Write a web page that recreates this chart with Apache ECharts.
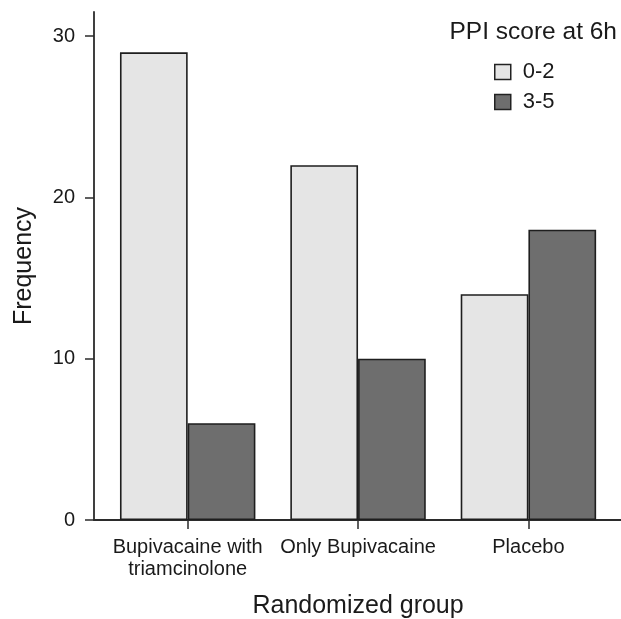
<!DOCTYPE html>
<html>
<head>
<meta charset="utf-8">
<script src="https://cdn.jsdelivr.net/npm/echarts@6/dist/echarts.min.js"></script>
<style>
html,body{margin:0;padding:0;background:#fff;}
#chart{width:621px;height:619px;}
</style>
</head>
<body>
<div id="chart"></div>
<script>
var categories = ['Bupivacaine with\ntriamcinolone', 'Only Bupivacaine', 'Placebo'];
var seriesNames = ['0-2', '3-5'];
var low = [29, 22, 14];
var high = [6, 10, 18];
var yTicks = [0, 10, 20, 30];

var FONT = '"Liberation Sans", Arial, Helvetica, sans-serif';
var TXT = '#1a1a1a';
var AX = '#2b2b2b';

var chart = echarts.init(document.getElementById('chart'), null, {renderer: 'canvas'});
chart.setOption({
  animation: false,
  backgroundColor: '#ffffff',
  textStyle: {fontFamily: FONT, color: TXT},
  title: {
    text: 'PPI score at 6h',
    right: 4,
    top: 20,
    padding: 0,
    textStyle: {fontFamily: FONT, fontSize: 24.5, fontWeight: 'normal', color: TXT}
  },
  legend: {
    orient: 'vertical',
    left: 494,
    top: 61,
    padding: 0,
    itemWidth: 16,
    itemHeight: 15,
    itemGap: 8,
    icon: 'rect',
    data: seriesNames,
    itemStyle: {borderColor: '#222', borderWidth: 1.5},
    textStyle: {fontFamily: FONT, fontSize: 22, color: TXT, padding: [0, 0, 0, 7]}
  },
  grid: [
    {left: 102.5, right: 7.4, top: 12, bottom: 99, containLabel: false, outerBoundsMode: 'none'},
    {left: 94, right: 0, top: 12, bottom: 99, containLabel: false, outerBoundsMode: 'none'}
  ],
  xAxis: [
    {
      gridIndex: 0,
      type: 'category',
      data: categories,
      axisLine: {show: false},
      axisTick: {show: true, alignWithLabel: true, length: 9, lineStyle: {color: AX, width: 1.5}},
      axisLabel: {fontFamily: FONT, fontSize: 20, color: TXT, margin: 16, lineHeight: 22.5, interval: 0},
      name: 'Randomized group',
      nameLocation: 'middle',
      nameGap: 74,
      nameTextStyle: {fontFamily: FONT, fontSize: 25, color: TXT}
    },
    {
      gridIndex: 1,
      type: 'value',
      min: 0, max: 1,
      axisLine: {show: true, onZero: false, lineStyle: {color: AX, width: 1.8}},
      axisTick: {show: false},
      axisLabel: {show: false},
      splitLine: {show: false}
    }
  ],
  yAxis: [
    {
      gridIndex: 0,
      type: 'value',
      min: 0, max: 31.5, interval: 10,
      show: false,
      splitLine: {show: false}
    },
    {
      gridIndex: 1,
      type: 'value',
      min: 0, max: 31.5, interval: 10,
      axisLine: {show: true, lineStyle: {color: AX, width: 1.8}},
      axisTick: {show: true, length: 9, customValues: yTicks, lineStyle: {color: AX, width: 1.5}},
      axisLabel: {
        fontFamily: FONT, fontSize: 20, color: TXT, margin: 19,
        customValues: yTicks
      },
      splitLine: {show: false},
      name: 'Frequency',
      nameLocation: 'middle',
      nameGap: 57,
      nameTextStyle: {fontFamily: FONT, fontSize: 25, color: TXT}
    }
  ],
  series: [
    {
      name: seriesNames[0],
      type: 'bar',
      xAxisIndex: 0, yAxisIndex: 0,
      data: low,
      barGap: '0%',
      barCategoryGap: '20.5%',
      itemStyle: {color: '#e5e5e5', borderColor: '#1e1e1e', borderWidth: 1.6}
    },
    {
      name: seriesNames[1],
      type: 'bar',
      xAxisIndex: 0, yAxisIndex: 0,
      data: high,
      barGap: '0%',
      barCategoryGap: '20.5%',
      itemStyle: {color: '#6e6e6e', borderColor: '#1e1e1e', borderWidth: 1.6}
    }
  ]
});
</script>
</body>
</html>
